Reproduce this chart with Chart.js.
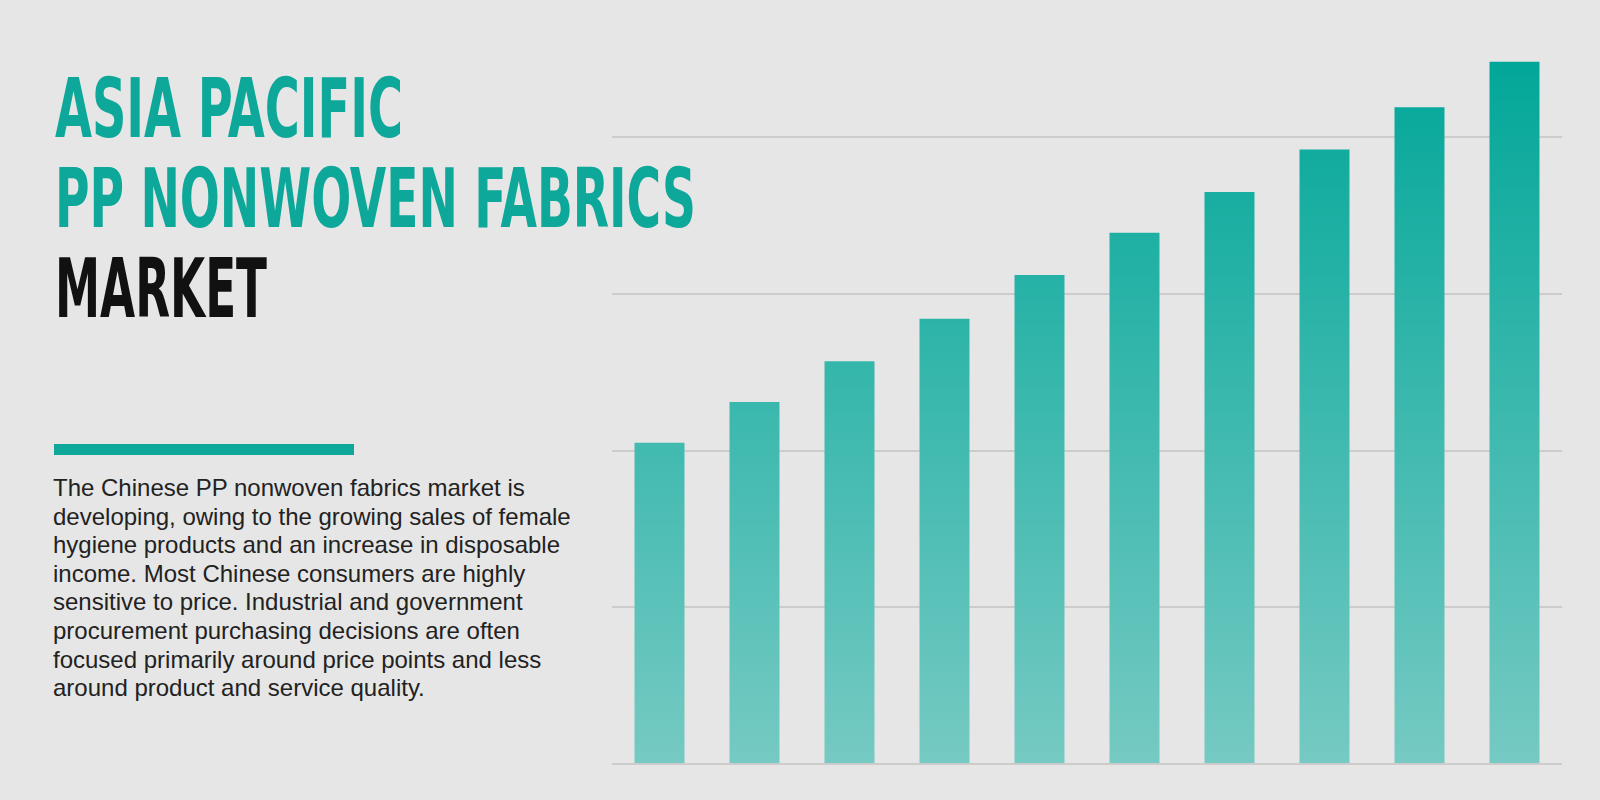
<!DOCTYPE html>
<html>
<head>
<meta charset="utf-8">
<script src="https://cdn.jsdelivr.net/npm/chart.js@4.4.0/dist/chart.umd.min.js"></script>
<style>
  html, body { margin: 0; padding: 0; }
  body { width: 1600px; height: 800px; background: #e6e6e6; position: relative; overflow: hidden; }
  .title { position: absolute; left: 55px; font-family: "Liberation Sans Narrow", "DejaVu Sans Condensed", sans-serif;
           font-weight: bold; font-size: 82px; line-height: 82px; white-space: nowrap; transform-origin: 0 0; }
  .teal { color: #0ea89a; }
  .dark { color: #111111; }
  #rule { position: absolute; left: 54px; top: 444px; width: 300px; height: 11px; background: #0ea89a; }
  #desc { position: absolute; left: 53px; top: 474px; font-family: "Liberation Sans", Arial, sans-serif;
          font-size: 24px; line-height: 28.6px; color: #222222; white-space: nowrap; }
  #chartBox { position: absolute; left: 612px; top: 0; width: 950px; height: 780px; }
</style>
</head>
<body>

<div class="title teal" id="t1" style="top:68px">ASIA PACIFIC</div>
<div class="title teal" id="t2" style="top:158px">PP NONWOVEN FABRICS</div>
<div class="title dark" id="t3" style="top:248px">MARKET</div>

<div id="rule"></div>
<div id="desc">
The Chinese PP nonwoven fabrics market is<br>
developing, owing to the growing sales of female<br>
hygiene products and an increase in disposable<br>
income. Most Chinese consumers are highly<br>
sensitive to price. Industrial and government<br>
procurement purchasing decisions are often<br>
focused primarily around price points and less<br>
around product and service quality.
</div>

<div id="chartBox"><canvas id="marketChart"></canvas></div>

<script>
// chart data (no axis labels are shown in the picture)
const periods = ["P1", "P2", "P3", "P4", "P5", "P6", "P7", "P8", "P9", "P10"];
const marketSize = [2.05, 2.31, 2.57, 2.84, 3.12, 3.39, 3.65, 3.92, 4.19, 4.48];
const gridTicks = [0, 1, 2, 3, 4];

// squeeze each title line to the width it has in the picture
const titleWidths = { t1: 348, t2: 641, t3: 212 };
Object.keys(titleWidths).forEach(id => {
    const el = document.getElementById(id);
    const w = el.getBoundingClientRect().width;
    el.style.transform = "scaleX(" + (titleWidths[id] / w) + ")";
});

function barGradient(context) {
    const area = context.chart.chartArea;
    if (!area) return "#2bb5a8";
    const g = context.chart.ctx.createLinearGradient(0, area.top + 19, 0, area.bottom);
    g.addColorStop(0, "#02a799");
    g.addColorStop(1, "#76cac3");
    return g;
}

const ctx = document.getElementById("marketChart").getContext("2d");
const marketChart = new Chart(ctx, {
    type: "bar",
    data: {
        labels: periods,
        datasets: [{
            label: "PP nonwoven fabrics",
            data: marketSize,
            backgroundColor: barGradient,
            borderWidth: 0,
            categoryPercentage: 1,
            barPercentage: 0.526
        }]
    },
    options: {
        responsive: true,
        maintainAspectRatio: false,
        animation: false,
        layout: { padding: { top: 43, bottom: 16, left: 0, right: 0 } },
        plugins: { legend: { display: false }, tooltip: { enabled: false } },
        scales: {
            x: { display: false },
            y: {
                min: 0,
                max: 4.6,
                z: 1,
                afterBuildTicks: scale => { scale.ticks = gridTicks.map(v => ({ value: v })); },
                ticks: { display: false },
                border: { display: false },
                grid: { color: "rgba(0,0,0,0.11)", lineWidth: 2, drawTicks: false }
            }
        }
    }
});
</script>
</body>
</html>
